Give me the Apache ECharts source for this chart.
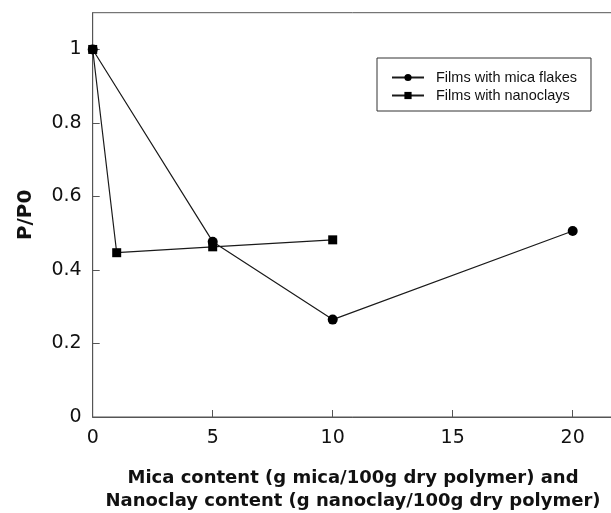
<!DOCTYPE html>
<html>
<head>
<meta charset="utf-8">
<script src="https://cdn.jsdelivr.net/npm/echarts@6/dist/echarts.min.js"></script>
<style>
  html, body { margin: 0; padding: 0; background: #fff; }
  #chart { width: 611px; height: 513px; }
</style>
</head>
<body>
<div id="chart"></div>
<script>
// P/P0 vs filler content, two film types
const micaX = [0, 5, 10, 20];
const micaY = [1.0, 0.477, 0.265, 0.506];
const clayX = [0, 1, 5, 10];
const clayY = [1.0, 0.447, 0.463, 0.482];
const seriesNames = ["Films with mica flakes", "Films with nanoclays"];
const xTitle = "Mica content (g mica/100g dry polymer) and\nNanoclay content (g nanoclay/100g dry polymer)";
const yTitle = "P/P0";

const pairs = (xs, ys) => xs.map((x, i) => [x, ys[i]]);
const axisColor = "#555";
const font = "DejaVu Sans";

const chart = echarts.init(document.getElementById("chart"));
chart.setOption({
  animation: false,
  backgroundColor: "#fff",
  // plot runs past the right edge of the picture, as in the original
  grid: {
    left: 92.7, top: 12.7, bottom: 96, right: -81.7,
    outerBoundsMode: "none", containLabel: false,
    show: true, borderColor: axisColor, borderWidth: 1,
  },
  legend: {
    orient: "vertical",
    left: 377, top: 58,
    padding: [12, 14, 8, 14],
    itemGap: 3,
    itemWidth: 32, itemHeight: 9,
    borderColor: "#333", borderWidth: 1,
    textStyle: { fontFamily: "Liberation Sans", fontSize: 14.5, color: "#111", padding: [0, 0, 0, 7] },
    data: seriesNames,
  },
  graphic: [{
    type: "text", x: 353, y: 489.5,
    style: {
      text: xTitle, align: "center", verticalAlign: "middle",
      fontFamily: font, fontWeight: "bold", fontSize: 18, lineHeight: 23, fill: "#111",
    },
  }],
  xAxis: {
    type: "value", min: 0, max: 25, interval: 5,
    axisLine: { lineStyle: { color: axisColor } },
    axisTick: { inside: true, length: 7, lineStyle: { color: axisColor } },
    axisLabel: { fontFamily: font, fontSize: 19, color: "#111", margin: 12 },
    splitLine: { show: false },
  },
  yAxis: {
    type: "value", min: 0, max: 1.1, interval: 0.2,
    name: yTitle, nameLocation: "middle", nameGap: 57, nameRotate: 90,
    nameTextStyle: { fontFamily: font, fontWeight: "bold", fontSize: 20, color: "#111" },
    axisLine: { show: true, lineStyle: { color: axisColor } },
    axisTick: { show: true, inside: true, length: 7, lineStyle: { color: axisColor } },
    axisLabel: { fontFamily: font, fontSize: 19, color: "#111", margin: 11, showMaxLabel: false },
    splitLine: { show: false },
  },
  series: [
    {
      name: seriesNames[0], type: "line", data: pairs(micaX, micaY),
      symbol: "circle", symbolSize: 10,
      lineStyle: { color: "#1a1a1a", width: 1.2 },
      itemStyle: { color: "#000" },
    },
    {
      name: seriesNames[1], type: "line", data: pairs(clayX, clayY),
      symbol: "rect", symbolSize: 9,
      lineStyle: { color: "#1a1a1a", width: 1.2 },
      itemStyle: { color: "#000" },
    },
  ],
});
</script>
</body>
</html>
